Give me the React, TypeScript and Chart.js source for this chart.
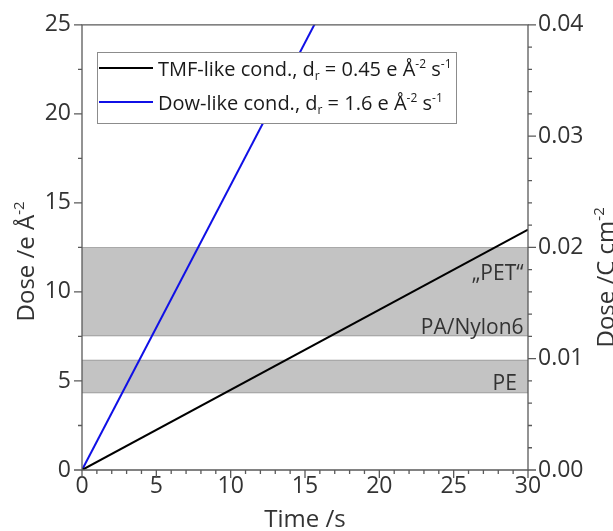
import React, { useEffect, useRef } from "react";
import { Chart, registerables } from "chart.js";

Chart.register(...registerables);

// ---- data ----
const tmfTimes = [0, 30];
const tmfDose = [0, 13.5];
const dowTimes = [0, 20];
const dowDose = [0, 32];

const bandLow = [4.3, 7.5];
const bandHigh = [6.2, 12.5];

const bandLabelText = ["PE", "PA/Nylon6", "\u201EPET\u201C"];
const bandLabelTime = [29.25, 29.7, 29.7];
const bandLabelDose = [4.5, 7.65, 10.65];

const xTickLabels = [0, 5, 10, 15, 20, 25, 30];
const yTickLabels = [0, 5, 10, 15, 20, 25];
const y2TickLabels = [0.0, 0.01, 0.02, 0.03, 0.04];

const FONT = '"Open Sans", "DejaVu Sans", sans-serif';

type Part = { t: string; m?: "sup" | "sub" };

function drawRich(
  ctx: CanvasRenderingContext2D,
  parts: Part[],
  x: number,
  y: number,
  size: number,
  align: "left" | "center" | "right",
  color: string
) {
  const small = Math.round(size * 0.62);
  let total = 0;
  const widths: number[] = [];
  for (const p of parts) {
    ctx.font = `${p.m ? small : size}px ${FONT}`;
    const w = ctx.measureText(p.t).width;
    widths.push(w);
    total += w;
  }
  let cx = x;
  if (align === "center") cx = x - total / 2;
  if (align === "right") cx = x - total;
  ctx.fillStyle = color;
  ctx.textAlign = "left";
  ctx.textBaseline = "alphabetic";
  parts.forEach((p, i) => {
    ctx.font = `${p.m ? small : size}px ${FONT}`;
    let dy = 0;
    if (p.m === "sup") dy = -size * 0.4;
    if (p.m === "sub") dy = size * 0.22;
    ctx.fillText(p.t, cx, y + dy);
    cx += widths[i];
  });
}

const legendItems: { color: string; parts: Part[] }[] = [
  {
    color: "#000000",
    parts: [
      { t: "TMF-like cond., d" },
      { t: "r", m: "sub" },
      { t: " = 0.45 e \u00C5" },
      { t: "-2", m: "sup" },
      { t: " s" },
      { t: "-1", m: "sup" },
    ],
  },
  {
    color: "#1010e6",
    parts: [
      { t: "Dow-like cond., d" },
      { t: "r", m: "sub" },
      { t: " = 1.6 e \u00C5" },
      { t: "-2", m: "sup" },
      { t: " s" },
      { t: "-1", m: "sup" },
    ],
  },
];

const bandsPlugin = {
  id: "bands",
  beforeDatasetsDraw(chart: any) {
    const { ctx, chartArea } = chart;
    const y = chart.scales.y;
    const x = chart.scales.x;
    ctx.save();
    bandLow.forEach((lo, i) => {
      const top = y.getPixelForValue(bandHigh[i]);
      const bot = y.getPixelForValue(lo);
      ctx.fillStyle = "#c3c3c3";
      ctx.fillRect(chartArea.left, top, chartArea.right - chartArea.left, bot - top);
      ctx.strokeStyle = "#a9a9a9";
      ctx.lineWidth = 1;
      ctx.beginPath();
      ctx.moveTo(chartArea.left, Math.round(top) + 0.5);
      ctx.lineTo(chartArea.right, Math.round(top) + 0.5);
      ctx.moveTo(chartArea.left, Math.round(bot) - 0.5);
      ctx.lineTo(chartArea.right, Math.round(bot) - 0.5);
      ctx.stroke();
    });
    bandLabelText.forEach((t, i) => {
      drawRich(
        ctx,
        [{ t }],
        x.getPixelForValue(bandLabelTime[i]),
        y.getPixelForValue(bandLabelDose[i]),
        21,
        "right",
        "#333333"
      );
    });
    ctx.restore();
  },
};

const framePlugin = {
  id: "frame",
  afterDatasetsDraw(chart: any) {
    const { ctx, chartArea } = chart;
    const x = chart.scales.x;
    const y = chart.scales.y;
    const y2 = chart.scales.y2;
    const { left, right, top, bottom } = chartArea;
    ctx.save();
    ctx.strokeStyle = "#5a5a5a";
    ctx.lineWidth = 1.3;
    ctx.beginPath();
    ctx.rect(left, top, right - left, bottom - top);
    ctx.stroke();

    ctx.beginPath();
    for (let v = 0; v <= 30; v += 1) {
      const px = x.getPixelForValue(v);
      const len = v % 5 === 0 ? 8 : 4;
      ctx.moveTo(px, bottom);
      ctx.lineTo(px, bottom + len);
    }
    for (let k = 0; k <= 10; k++) {
      const py = y.getPixelForValue(k * 2.5);
      const len = k % 2 === 0 ? 8 : 4;
      ctx.moveTo(left, py);
      ctx.lineTo(left - len, py);
    }
    for (let k = 0; k <= 20; k++) {
      const py = y2.getPixelForValue(k * 0.002);
      const len = k % 5 === 0 ? 8 : 4;
      ctx.moveTo(right, py);
      ctx.lineTo(right + len, py);
    }
    ctx.stroke();
    ctx.restore();
  },
  afterDraw(chart: any) {
    const { ctx, chartArea } = chart;
    ctx.save();
    const bx = 97,
      by = 52,
      bw = 359,
      bh = 71;
    ctx.fillStyle = "#ffffff";
    ctx.fillRect(bx, by, bw, bh);
    ctx.strokeStyle = "#8c8c8c";
    ctx.lineWidth = 1;
    ctx.strokeRect(bx + 0.5, by + 0.5, bw, bh);
    legendItems.forEach((it, i) => {
      const ly = 68 + i * 34;
      ctx.strokeStyle = it.color;
      ctx.lineWidth = 2;
      ctx.beginPath();
      ctx.moveTo(bx + 2, ly);
      ctx.lineTo(153, ly);
      ctx.stroke();
      drawRich(ctx, it.parts, 158, ly + 8, 20, "left", "#1a1a1a");
    });

    const cy = (chartArea.top + chartArea.bottom) / 2;
    drawRich(ctx, [{ t: "Time /s" }], (chartArea.left + chartArea.right) / 2, 527, 24, "center", "#333333");

    ctx.save();
    ctx.translate(34, cy + 14);
    ctx.rotate(-Math.PI / 2);
    drawRich(ctx, [{ t: "Dose /e \u00C5" }, { t: "-2", m: "sup" }], 0, 0, 24, "center", "#333333");
    ctx.restore();

    ctx.save();
    ctx.translate(614, cy + 30);
    ctx.rotate(-Math.PI / 2);
    drawRich(ctx, [{ t: "Dose /C cm" }, { t: "-2", m: "sup" }], 0, 0, 24, "center", "#333333");
    ctx.restore();

    ctx.restore();
  },
};

export default function App() {
  const ref = useRef<HTMLCanvasElement | null>(null);
  useEffect(() => {
    document.body.style.margin = "0";
    document.body.style.overflow = "hidden";
    const canvas = ref.current;
    if (!canvas) return;
    const tickFont = { family: FONT, size: 23 };
    const chart = new Chart(canvas, {
      type: "line",
      data: {
        datasets: [
          {
            label: "TMF-like",
            data: tmfTimes.map((t, i) => ({ x: t, y: tmfDose[i] })),
            borderColor: "#000000",
            borderWidth: 2,
            pointRadius: 0,
            fill: false,
          },
          {
            label: "Dow-like",
            data: dowTimes.map((t, i) => ({ x: t, y: dowDose[i] })),
            borderColor: "#1010e6",
            borderWidth: 2,
            pointRadius: 0,
            fill: false,
          },
        ],
      },
      options: {
        animation: false,
        responsive: false,
        layout: { padding: { top: 24, left: 0, right: 0, bottom: 0 } },
        plugins: { legend: { display: false }, tooltip: { enabled: false } },
        scales: {
          x: {
            type: "linear",
            min: 0,
            max: 30,
            afterBuildTicks: (s: any) => {
              s.ticks = xTickLabels.map((v) => ({ value: v }));
            },
            afterFit: (s: any) => {
              s.height = 61;
            },
            grid: { display: false, drawTicks: false },
            border: { display: false },
            ticks: { font: tickFont, color: "#333333", padding: 3, maxRotation: 0 },
          },
          y: {
            type: "linear",
            position: "left",
            min: 0,
            max: 25,
            afterBuildTicks: (s: any) => {
              s.ticks = yTickLabels.map((v) => ({ value: v }));
            },
            afterFit: (s: any) => {
              s.width = 82;
            },
            grid: { display: false, drawTicks: false },
            border: { display: false },
            ticks: { font: tickFont, color: "#333333", padding: 11 },
          },
          y2: {
            type: "linear",
            position: "right",
            min: 0,
            max: 0.04,
            afterBuildTicks: (s: any) => {
              s.ticks = y2TickLabels.map((v) => ({ value: v }));
            },
            afterFit: (s: any) => {
              s.width = 85;
            },
            grid: { display: false, drawTicks: false },
            border: { display: false },
            ticks: {
              font: tickFont,
              color: "#333333",
              padding: 10,
              callback: (v: any) => Number(v).toFixed(2),
            },
          },
        },
      },
      plugins: [bandsPlugin, framePlugin],
    });
    return () => chart.destroy();
  }, []);
  return <canvas ref={ref} width={613} height={531} />;
}
